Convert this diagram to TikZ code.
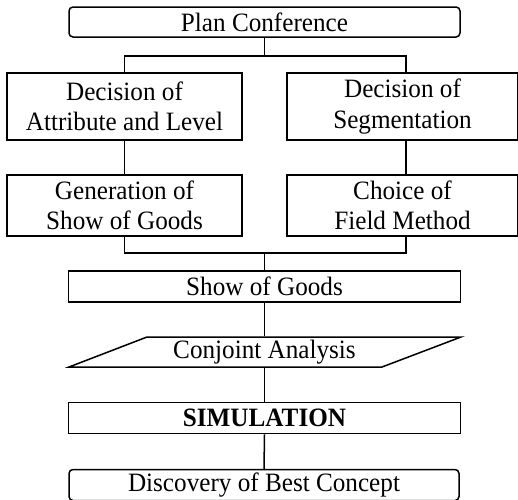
\documentclass[tikz,border=0pt]{standalone}
\usepackage{fontspec}
\setmainfont[FakeStretch=0.95]{Liberation Serif}
\begin{document}
\begin{tikzpicture}[x=1pt,y=-1pt,line width=1.5pt,
  box/.style={draw, rectangle, inner sep=0pt, align=center,
    font=\fontsize{26.5}{30.5}\selectfont},
  rbox/.style={box, rounded corners=4pt},
  plain/.style={rectangle, inner sep=0pt, align=center,
    font=\fontsize{26.5}{30.5}\selectfont}]
\useasboundingbox (0,0) rectangle (518,499);

\node[rbox, minimum width=391pt, minimum height=30pt] (top) at (264.5,22) {Plan Conference};
\node[box, minimum width=235pt, minimum height=67pt] (L1) at (124.5,106.5) {Decision of\\Attribute and Level};
\node[box, minimum width=231pt, minimum height=67pt] (R1) at (402.5,106.5) {Decision of\\Segmentation};
\node[box, minimum width=235pt, minimum height=61pt] (L2) at (124.5,205.5) {Generation of\\Show of Goods};
\node[box, minimum width=231pt, minimum height=61pt] (R2) at (402.5,205.5) {Choice of\\Field Method};
\node[box, minimum width=392pt, minimum height=31pt] (show) at (264.5,286.5) {Show of Goods};
\node[plain, minimum width=392pt, minimum height=30pt] (conj) at (264.5,352) {Conjoint Analysis};
\draw (147,337) -- (461,337) -- (382,367) -- (69,367) -- cycle;
\node[box, minimum width=392pt, minimum height=31pt] (sim) at (264.5,418) {\bfseries SIMULATION};
\node[rbox, minimum width=390pt, minimum height=31pt] (disc) at (264,485) {Discovery of Best Concept};

\coordinate (jl) at (124.5,56);
\coordinate (jr) at (406,56);
\coordinate (kl) at (124.5,253);
\coordinate (kr) at (406,253);

\draw (top.south) -- (top.south |- jl);
\draw (L1.north) -- (jl) -- (jr) -- (jr |- R1.north);
\draw (L1.south) -- (L2.north);
\draw (jr |- R1.south) -- (jr |- R2.north);
\draw (L2.south) -- (kl) -- (kr) -- (kr |- R2.south);
\draw (show.north |- kl) -- (show.north);
\draw (show.south) -- (conj.north);
\draw (conj.south) -- (sim.north);
\draw (sim.south) -- (disc.north);
\end{tikzpicture}
\end{document}
